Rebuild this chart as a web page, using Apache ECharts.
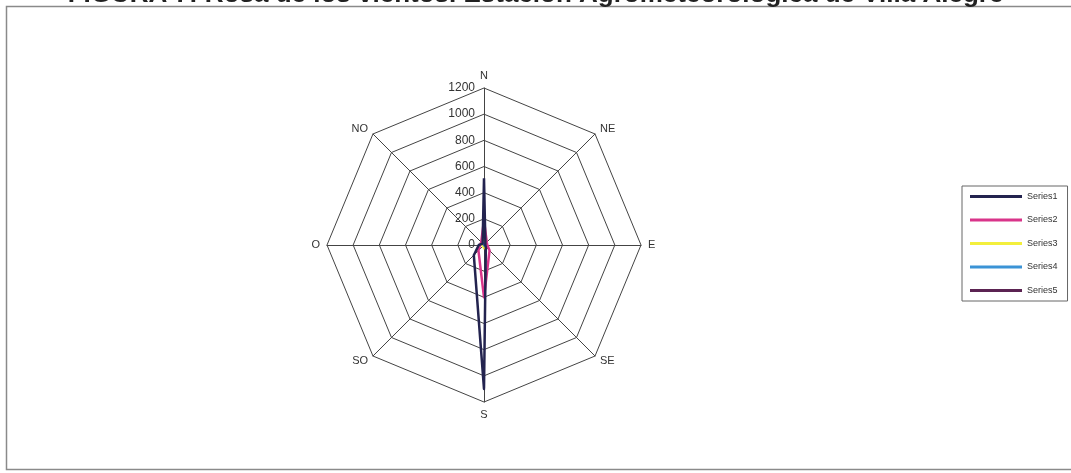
<!DOCTYPE html>
<html>
<head>
<meta charset="utf-8">
<script src="https://cdn.jsdelivr.net/npm/echarts@6/dist/echarts.min.js"></script>
<style>
html, body { margin: 0; padding: 0; background: #fff; }
#rosa { width: 1071px; height: 473px; }
</style>
</head>
<body>
<div id="rosa"></div>
<script>
// direcciones en sentido horario desde el norte
var direcciones = ['N', 'NE', 'E', 'SE', 'S', 'SO', 'O', 'NO'];
var radioTicks = [0, 200, 400, 600, 800, 1000, 1200];

var series1 = [510, 15, 10, 20, 1100, 110, 40, 15];
var series2 = [190, 30, 25, 60, 400, 60, 30, 30];
var series3 = [45, 20, 15, 20, 30, 15, 20, 25];
var series4 = [20, 10, 10, 10, 15, 10, 10, 10];
var series5 = [15, 8, 8, 8, 20, 10, 8, 8];

var nombres = ['Series1', 'Series2', 'Series3', 'Series4', 'Series5'];
var colores = ['#23234f', '#d9348a', '#f3ef3c', '#3b93d6', '#5b2352'];
var valores = [series1, series2, series3, series4, series5];

// el radar de echarts avanza en sentido antihorario, asi que se invierte el orden
function orden(arr) {
    var r = [arr[0]];
    for (var i = arr.length - 1; i > 0; i--) r.push(arr[i]);
    return r;
}

var rosa = echarts.init(document.getElementById('rosa'));

var serie = [];
for (var i = 0; i < nombres.length; i++) {
    serie.push({
        name: nombres[i],
        type: 'radar',
        symbol: 'none',
        z: 10 - i,
        lineStyle: { color: colores[i], width: i < 2 ? 2.5 : 1.5 },
        itemStyle: { color: colores[i] },
        data: [{ name: nombres[i], value: orden(valores[i]) }]
    });
}

var option = {
    backgroundColor: '#fff',
    animation: false,
    title: {
        text: 'FIGURA 7: Rosa de los vientos. Estación Agrometeorológica de Villa Alegre',
        left: 'center',
        top: -23,
        textStyle: { fontFamily: 'Liberation Sans', fontWeight: 'bold', fontSize: 26, color: '#222' }
    },
    graphic: [{
        type: 'rect',
        shape: { x: 6.5, y: 6.5, width: 1075, height: 463 },
        style: { fill: 'none', stroke: '#8a8a8a', lineWidth: 1.5 },
        silent: true
    }],
    legend: {
        orient: 'vertical',
        left: 962,
        top: 186,
        width: 106,
        padding: [6, 10, 6, 8],
        itemWidth: 52,
        itemHeight: 3,
        itemGap: 14.5,
        icon: 'rect',
        borderColor: '#666',
        borderWidth: 1,
        data: nombres,
        textStyle: { fontFamily: 'Liberation Sans', fontSize: 9, color: '#333' }
    },
    radar: {
        center: [484, 245],
        radius: 157,
        startAngle: 90,
        shape: 'polygon',
        splitNumber: 6,
        nameGap: 7,
        axisName: { color: '#333', fontFamily: 'Liberation Sans', fontSize: 11 },
        indicator: orden(direcciones).map(function (d) { return { name: d, min: 0, max: 1200 }; }),
        axisLine: { lineStyle: { color: '#444', width: 1 } },
        splitLine: { lineStyle: { color: '#444', width: 1 } },
        splitArea: { show: false },
        axisTick: { show: false },
        axisLabel: { show: false }
    },
    polar: { center: [484, 245], radius: 157 },
    angleAxis: {
        type: 'value', min: 0, max: 360, startAngle: 90,
        axisLine: { show: false }, axisTick: { show: false },
        axisLabel: { show: false }, splitLine: { show: false }
    },
    radiusAxis: {
        type: 'value', min: 0, max: 1200, interval: 200,
        axisLine: { show: false }, axisTick: { show: false },
        splitLine: { show: false },
        axisLabel: {
            color: '#333', fontFamily: 'Liberation Sans', fontSize: 12, margin: 9,
            formatter: function (v) { return radioTicks.indexOf(v) >= 0 ? String(v) : ''; }
        }
    },
    series: serie
};

rosa.setOption(option);
</script>
</body>
</html>
